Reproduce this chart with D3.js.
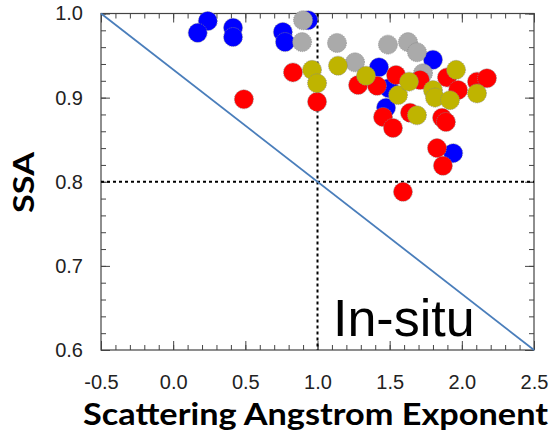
<!DOCTYPE html>
<html>
<head>
<meta charset="utf-8">
<script src="https://cdn.jsdelivr.net/npm/d3@7"></script>
<style>
  body { margin: 0; background: #fff; }
  svg { display: block; }
</style>
</head>
<body>
<svg id="chart"></svg>
<script>
var W = 554, H = 432;

// data: [SAE, SSA]
var bluePts = [[0.24,0.991],[0.17,0.977],[0.415,0.983],[0.415,0.972],[0.76,0.978],[0.775,0.966],
  [0.935,0.992],[1.426,0.936],[1.80,0.945],[1.495,0.911],[1.475,0.888],[1.94,0.834]];
var grayPts = [[0.90,0.992],[0.893,0.966],[1.135,0.965],[1.26,0.942],[1.488,0.963],[1.627,0.966],
  [1.689,0.954],[1.731,0.929]];
var redPts = [[0.83,0.930],[0.49,0.898],[0.997,0.895],[1.281,0.915],[1.412,0.914],[1.544,0.927],
  [1.71,0.921],[1.897,0.924],[1.974,0.909],[2.105,0.919],[2.174,0.923],[1.454,0.877],[1.523,0.864],
  [1.641,0.882],[1.863,0.876],[1.89,0.871],[1.828,0.840],[1.869,0.819],[1.592,0.788]];
var olivePts = [[0.962,0.933],[0.997,0.917],[1.142,0.938],[1.336,0.926],[1.558,0.903],[1.634,0.919],
  [1.80,0.909],[1.814,0.900],[1.918,0.897],[1.96,0.933],[2.105,0.905],[1.689,0.879]];

var xTicks = [-0.5,0.0,0.5,1.0,1.5,2.0,2.5];
var yTicks = [0.6,0.7,0.8,0.9,1.0];
var diagLine = [[-0.5,1.0],[2.5,0.6]];
var refX = 1.0, refY = 0.8;

var pLeft = 101, pRight = 534, pTop = 13.5, pBottom = 350;

var svg = d3.select('#chart').attr('width', W).attr('height', H);

var x = d3.scaleLinear().domain([-0.5, 2.5]).range([pLeft, pRight]);
var y = d3.scaleLinear().domain([0.6, 1.0]).range([pBottom, pTop]);

var xMinor = d3.range(-5, 26).map(function(d){ return d / 10; });
var yMinor = d3.range(30, 51).map(function(d){ return d / 50; });

function styleAxis(g){
  g.select('.domain').remove();
  g.selectAll('line').attr('stroke', '#444').attr('stroke-width', 1);
  g.selectAll('text').attr('font-family', 'Liberation Sans, Arial, sans-serif')
    .attr('font-size', 20).attr('fill', '#222');
}

// minor ticks, all four sides
svg.append('g').attr('transform', 'translate(0,' + pBottom + ')')
  .call(d3.axisBottom(x).tickValues(xMinor).tickSize(-5).tickFormat('')).call(styleAxis);
svg.append('g').attr('transform', 'translate(0,' + pTop + ')')
  .call(d3.axisTop(x).tickValues(xMinor).tickSize(-5).tickFormat('')).call(styleAxis);
svg.append('g').attr('transform', 'translate(' + pLeft + ',0)')
  .call(d3.axisLeft(y).tickValues(yMinor).tickSize(-5).tickFormat('')).call(styleAxis);
svg.append('g').attr('transform', 'translate(' + pRight + ',0)')
  .call(d3.axisRight(y).tickValues(yMinor).tickSize(-5).tickFormat('')).call(styleAxis);

// major ticks + labels
svg.append('g').attr('transform', 'translate(0,' + pBottom + ')')
  .call(d3.axisBottom(x).tickValues(xTicks).tickSize(-9).tickPadding(25)
    .tickFormat(function(d){ return d.toFixed(1); })).call(styleAxis);
svg.append('g').attr('transform', 'translate(0,' + pTop + ')')
  .call(d3.axisTop(x).tickValues(xTicks).tickSize(-9).tickFormat('')).call(styleAxis);
svg.append('g').attr('transform', 'translate(' + pLeft + ',0)')
  .call(d3.axisLeft(y).tickValues(yTicks).tickSize(-9).tickPadding(18)
    .tickFormat(function(d){ return d.toFixed(1); })).call(styleAxis);
svg.append('g').attr('transform', 'translate(' + pRight + ',0)')
  .call(d3.axisRight(y).tickValues(yTicks).tickSize(-9).tickFormat('')).call(styleAxis);

// frame
svg.append('rect')
  .attr('x', pLeft).attr('y', pTop)
  .attr('width', pRight - pLeft).attr('height', pBottom - pTop)
  .attr('fill', 'none').attr('stroke', '#444').attr('stroke-width', 1.2);

// reference lines
svg.append('line')
  .attr('x1', x(refX)).attr('x2', x(refX)).attr('y1', y(1.0)).attr('y2', y(0.6))
  .attr('stroke', '#000').attr('stroke-width', 2).attr('stroke-dasharray', '3,3');
svg.append('line')
  .attr('x1', x(-0.5)).attr('x2', x(2.5)).attr('y1', y(refY)).attr('y2', y(refY))
  .attr('stroke', '#000').attr('stroke-width', 2).attr('stroke-dasharray', '3,3');

svg.append('path')
  .datum(diagLine)
  .attr('d', d3.line().x(function(d){ return x(d[0]); }).y(function(d){ return y(d[1]); }))
  .attr('stroke', '#4a7ebb').attr('stroke-width', 1.8).attr('fill', 'none');

// points
function drawPts(pts, color){
  svg.append('g').selectAll('circle')
    .data(pts)
    .enter()
    .append('circle')
    .attr('cx', function(d){ return x(d[0]); })
    .attr('cy', function(d){ return y(d[1]); })
    .attr('r', 9.5)
    .attr('fill', color)
    .attr('stroke', '#888')
    .attr('stroke-width', 0.8)
    .attr('stroke-dasharray', '1,1');
}
drawPts(bluePts, '#0000ff');
drawPts(grayPts, '#aaaaaa');
drawPts(redPts, '#ff0000');
drawPts(olivePts, '#bfb400');

// texts
svg.append('text')
  .attr('x', 333).attr('y', 336)
  .attr('font-family', 'Liberation Sans, Arial, sans-serif')
  .attr('font-size', 52)
  .attr('fill', '#000')
  .text('In-situ');

svg.append('text')
  .attr('x', 83).attr('y', 425)
  .attr('font-family', 'Lato, Open Sans, sans-serif')
  .attr('font-weight', 'bold')
  .attr('font-size', 30)
  .attr('textLength', 465)
  .attr('lengthAdjust', 'spacingAndGlyphs')
  .attr('fill', '#000')
  .text('Scattering Angstrom Exponent');

svg.append('text')
  .attr('transform', 'translate(34,213) rotate(-90)')
  .attr('font-family', 'Lato, Open Sans, sans-serif')
  .attr('font-weight', 'bold')
  .attr('font-size', 28)
  .attr('textLength', 61)
  .attr('lengthAdjust', 'spacingAndGlyphs')
  .attr('fill', '#000')
  .text('SSA');
</script>
</body>
</html>
